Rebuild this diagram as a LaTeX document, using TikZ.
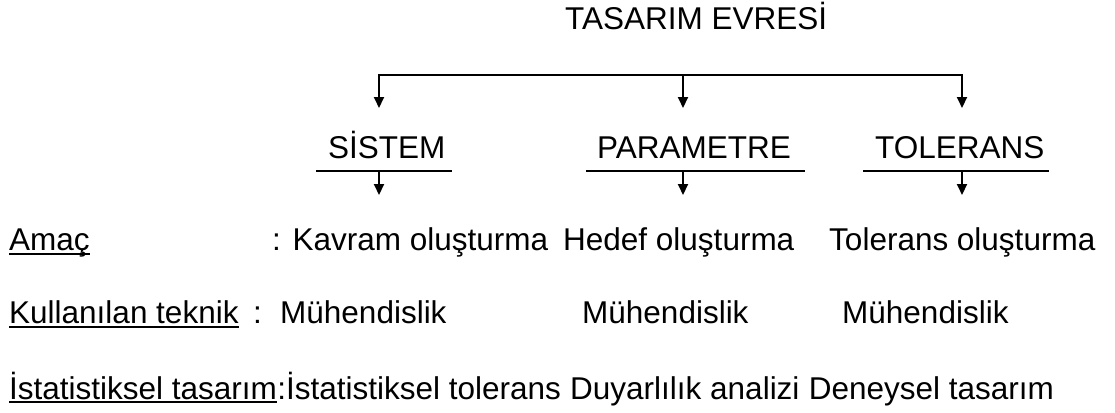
\documentclass[tikz,border=0pt]{standalone}
\usepackage{fontspec}
\setmainfont{Liberation Sans}
\usetikzlibrary{arrows.meta}
\begin{document}
\begin{tikzpicture}[x=1pt,y=-1pt,
  txt/.style={inner sep=0pt, anchor=base west, font=\fontsize{31.5}{38}\selectfont},
  wire/.style={line width=2pt},
  arr/.style={wire,-{Triangle[width=10pt,length=11pt]}},
  bar/.style={line width=2.5pt},
  uline/.style={line width=2.5pt}]
\useasboundingbox (0,0) rectangle (1115,412);

% title and the three phases
\node[txt] (title) at (565,29.5) {TASARIM EVRES\.I};
\node[txt] (sis) at (328,158) {S\.ISTEM};
\node[txt] (par) at (597,158) {PARAMETRE};
\node[txt] (tol) at (875,158) {TOLERANS};

% distribution bus
\coordinate (b1) at (379,75);
\coordinate (b2) at (683,75);
\coordinate (b3) at (962,75);
\coordinate (t1) at (379,108);
\coordinate (t2) at (683,108);
\coordinate (t3) at (962,108);
\draw[arr] (b2) -| (t1);
\draw[arr] (b2) -| (t3);
\draw[arr] (b2) -- (t2);

% bars under the phase names
\coordinate (s1l) at (316,171); \coordinate (s1r) at (452,171);
\coordinate (p1l) at (586,171); \coordinate (p1r) at (805,171);
\coordinate (o1l) at (863,171); \coordinate (o1r) at (1049,171);
\draw[bar] (s1l) -- (s1r);
\draw[bar] (p1l) -- (p1r);
\draw[bar] (o1l) -- (o1r);
\coordinate (s1m) at (379,171); \coordinate (s1d) at (379,195);
\coordinate (p1m) at (683,171); \coordinate (p1d) at (683,195);
\coordinate (o1m) at (962,171); \coordinate (o1d) at (962,195);
\draw[arr] (s1m) -- (s1d);
\draw[arr] (p1m) -- (p1d);
\draw[arr] (o1m) -- (o1d);

% row: Amaç
\node[txt] (amac) at (9,250) {Amaç};
\node[txt] (amac1) at (272,250) {: Kavram oluşturma};
\node[txt] (amac2) at (563,250) {Hedef oluşturma};
\node[txt] (amac3) at (829,250) {Tolerans oluşturma};

% row: Kullanılan teknik
\node[txt] (kul) at (9,323) {Kullanılan teknik};
\node[txt] (kulc) at (253,323) {:};
\node[txt] (kul1) at (280,323) {Mühendislik};
\node[txt] (kul2) at (582,323) {Mühendislik};
\node[txt] (kul3) at (842,323) {Mühendislik};

% row: İstatistiksel tasarım
\node[txt] (ist) at (9,399) {\.Istatistiksel tasarım};
\node[txt] (ist1) at (ist.base east) {:\.Istatistiksel tolerans};
\node[txt] (ist2) at ([xshift=8.8pt]ist1.base east) {Duyarlılık analizi};
\node[txt] (ist3) at ([xshift=8.8pt]ist2.base east) {Deneysel tasarım};

% underlined row headings
\draw[uline] ([yshift=-4pt]amac.base west) -- ([yshift=-4pt]amac.base east);
\draw[uline] ([yshift=-4pt]kul.base west) -- ([yshift=-4pt]kul.base east);
\draw[uline] ([yshift=-3pt]ist.base west) -- ([yshift=-3pt]ist.base east);
\end{tikzpicture}
\end{document}
